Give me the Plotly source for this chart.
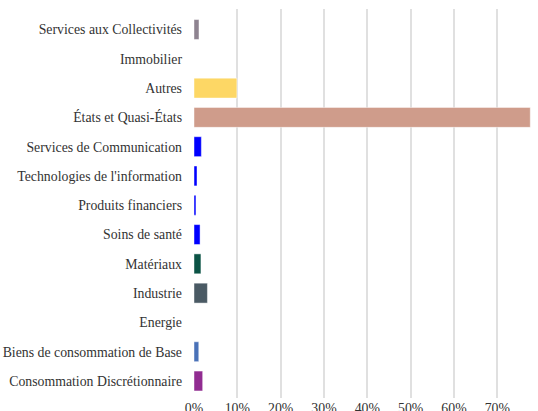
import plotly.graph_objects as go

categories = [
    "Consommation Discrétionnaire",
    "Biens de consommation de Base",
    "Energie",
    "Industrie",
    "Matériaux",
    "Soins de santé",
    "Produits financiers",
    "Technologies de l'information",
    "Services de Communication",
    "États et Quasi-États",
    "Autres",
    "Immobilier",
    "Services aux Collectivités",
]
values = [2.0, 1.1, 0.0, 3.1, 1.6, 1.4, 0.45, 0.7, 1.7, 77.6, 9.9, 0.0, 1.15]
colors = ["#912C91", "#4A72B8", "#555555", "#4A5A64", "#0B5345", "#0000FF",
          "#0000FF", "#0000FF", "#0000FF", "#CF9C8B", "#FDD765", "#888888", "#8E8390"]
x_ticks = [0, 10, 20, 30, 40, 50, 60, 70]
x_tick_labels = ["0%", "10%", "20%", "30%", "40%", "50%", "60%", "70%"]

fig = go.Figure(go.Bar(
    y=categories, x=values, orientation="h",
    marker=dict(color=colors, line=dict(color="rgba(255,255,255,0.45)", width=1)),
    width=0.68,
    hoverinfo="x+y",
))

fig.update_layout(
    width=538, height=411,
    margin=dict(l=194, r=6, t=9, b=13),
    paper_bgcolor="white", plot_bgcolor="white",
    font=dict(family="Liberation Serif", size=13.8, color="#333333"),
    showlegend=False,
)
fig.update_xaxes(
    range=[0, 78], tickmode="array", tickvals=x_ticks, ticktext=x_tick_labels,
    showgrid=True, gridcolor="#e0e0e0", gridwidth=1.5,
    zeroline=False, showline=False, fixedrange=True, automargin=False,
)
fig.update_yaxes(
    categoryorder="array", categoryarray=categories,
    range=[-0.58, 12.7], showgrid=False, zeroline=False, showline=False,
    ticklabelstandoff=11, fixedrange=True, automargin=False,
)

fig.write_html("out.html", config={"displayModeBar": False},
               post_script="document.body.style.margin='0';")
